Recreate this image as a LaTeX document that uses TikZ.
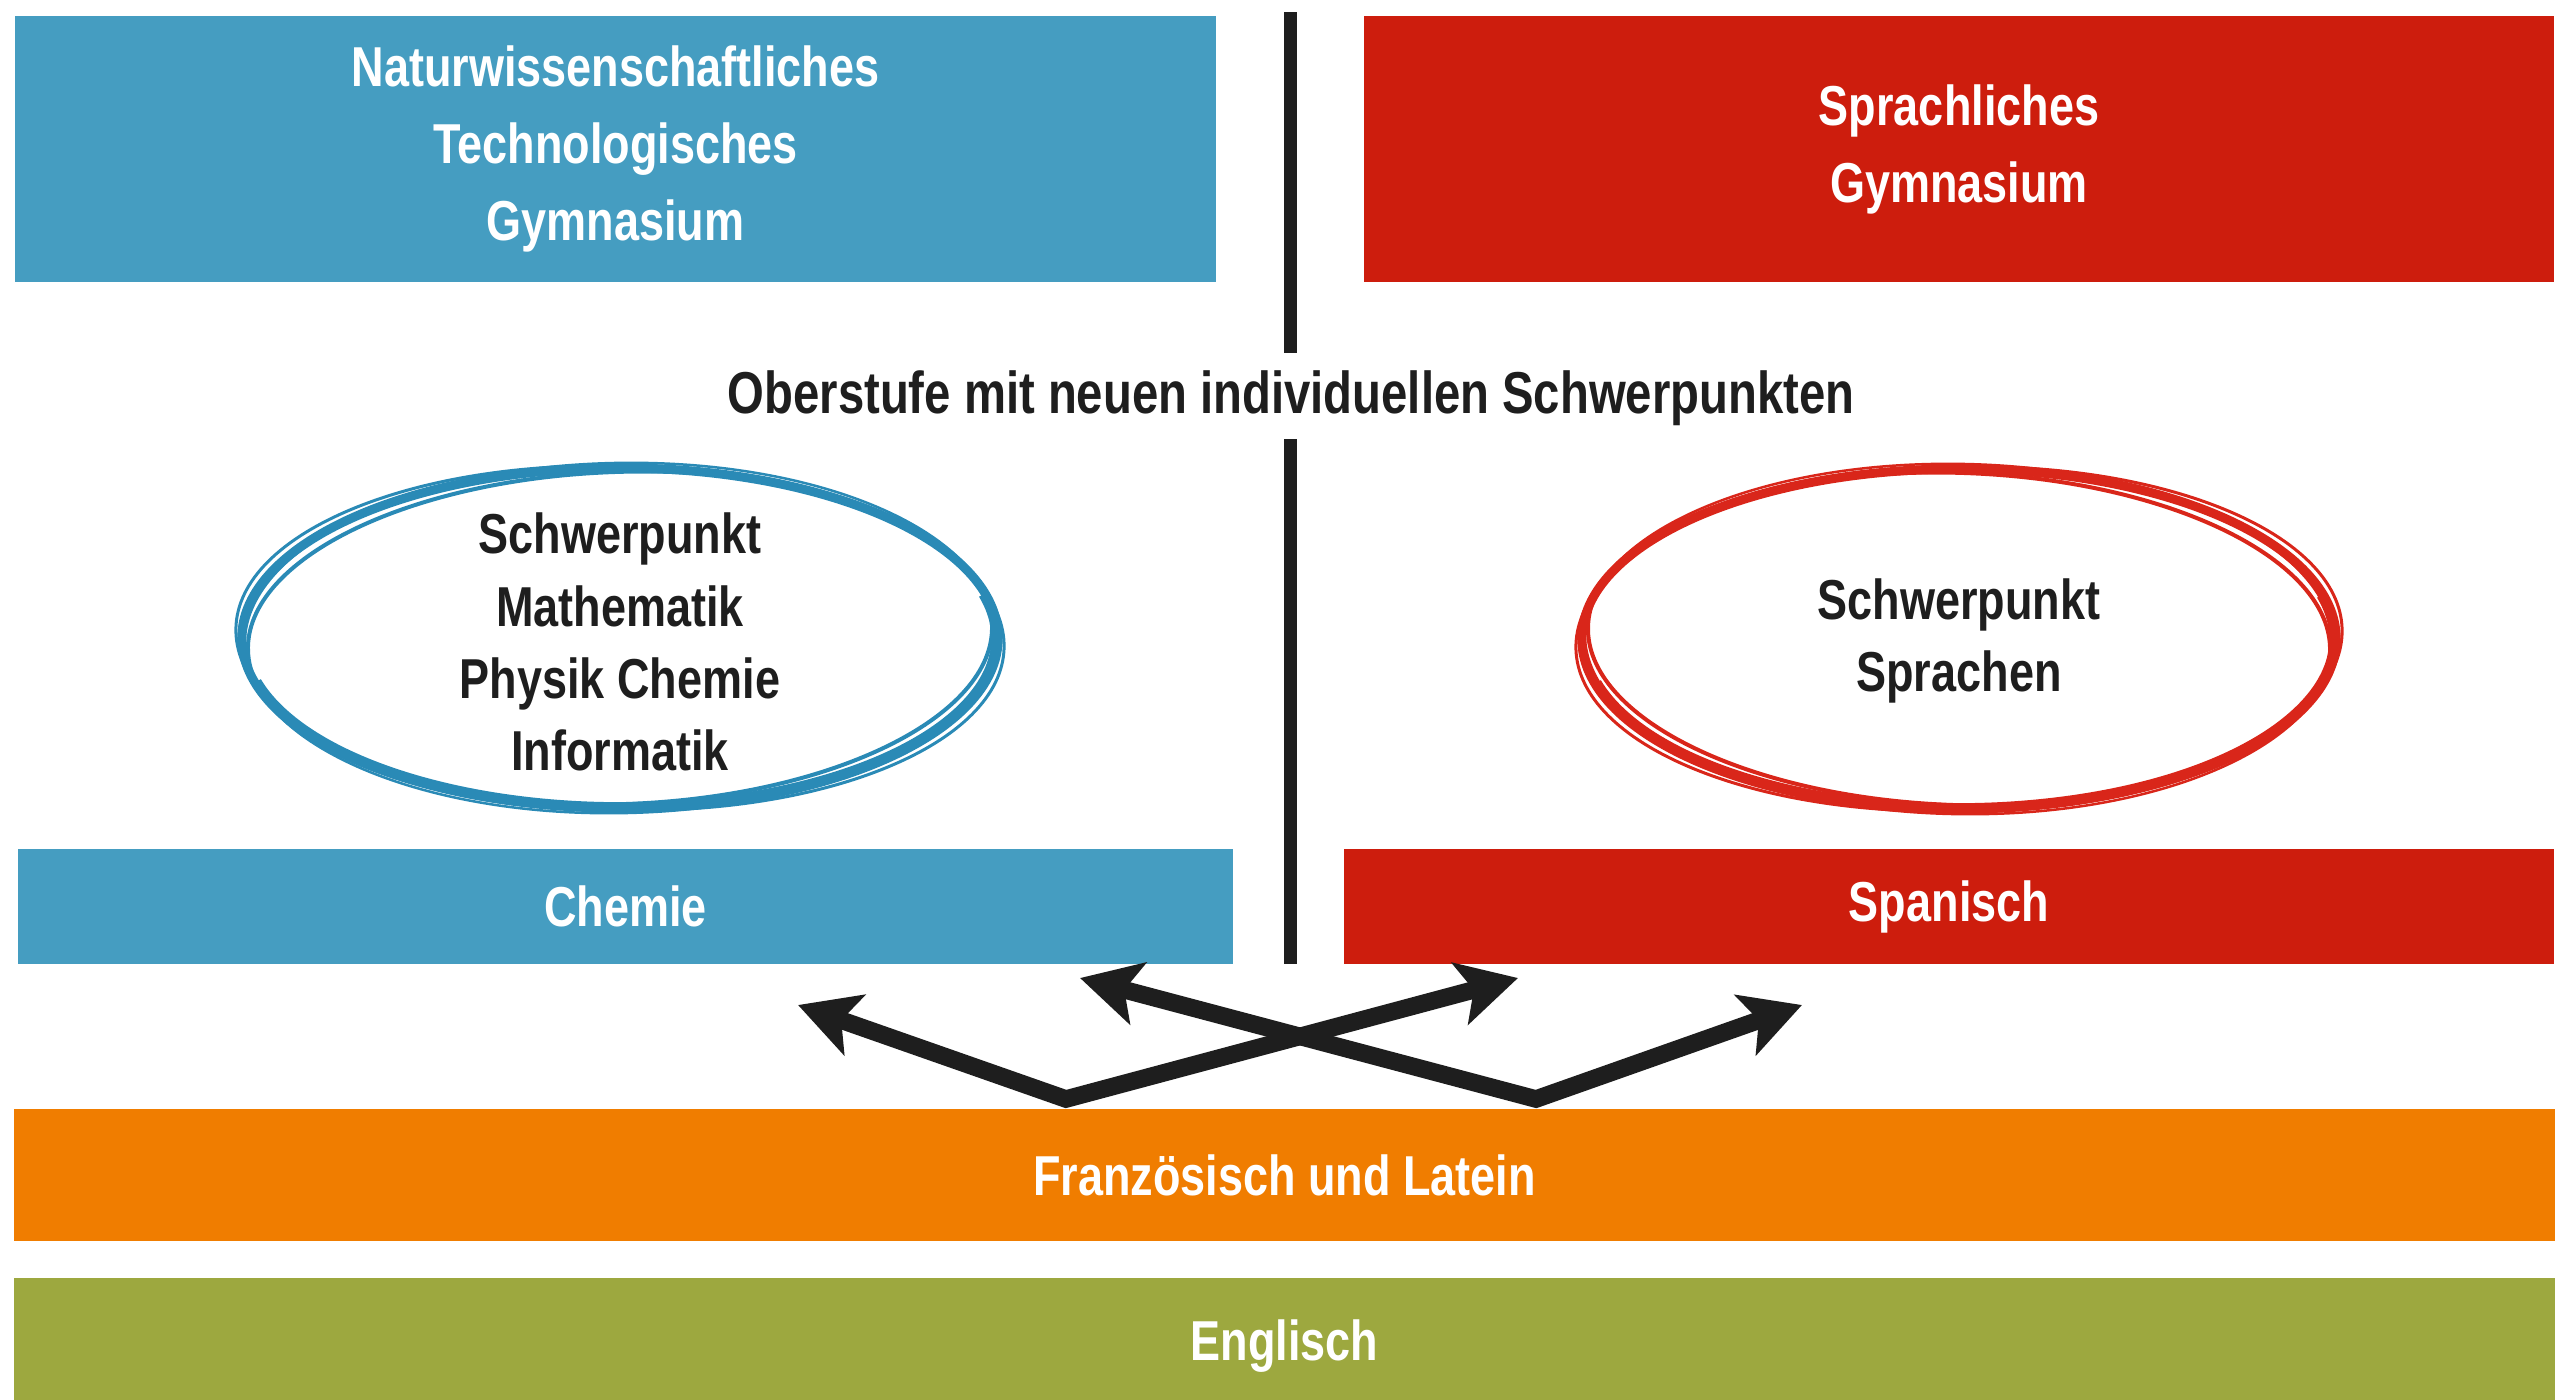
\documentclass[tikz,border=0pt]{standalone}
\usepackage{fontspec}
\setmainfont{Liberation Sans}[FakeStretch=0.8]
\usetikzlibrary{arrows.meta}

\definecolor{ntgblue}{HTML}{459DC1}
\definecolor{sprred}{HTML}{CD1D0D}
\definecolor{frorange}{HTML}{F07D00}
\definecolor{engreen}{HTML}{9DA83F}
\definecolor{inkblack}{HTML}{1E1E1E}
\definecolor{brushblue}{HTML}{2A8AB6}
\definecolor{brushred}{HTML}{D9261A}

\tikzset{
  band/.style={rectangle, inner sep=0pt, text=white, align=center,
    font=\bfseries\fontsize{16}{21.9}\selectfont},
  focus/.style={inner sep=0pt, text=inkblack, align=center,
    font=\bfseries\fontsize{16}{20.5}\selectfont},
  crossarrow/.style={draw=inkblack, line width=5pt, line join=miter,
    >={Stealth[length=17pt,width=18pt,inset=4pt]}, <->},
  divider/.style={draw=inkblack, line width=0.13cm},
}

\begin{document}
\begin{tikzpicture}[x=0.01cm, y=-0.01cm]

    \useasboundingbox (0,0) rectangle (2570,1399);

    % Gymnasien
    \node[band, fill=ntgblue, minimum width=12.01cm, minimum height=2.66cm] (ntg) at (615.5,149)
        {Naturwissenschaftliches\\Technologisches\\Gymnasium};
    \node[band, fill=sprred, minimum width=11.90cm, minimum height=2.66cm] (spr) at (1959,149)
        {Sprachliches\\Gymnasium};

    \node[focus, font=\bfseries\fontsize{16.8}{20.5}\selectfont] (ober) at (1291,398)
        {Oberstufe mit neuen individuellen Schwerpunkten};

    \coordinate (divtop) at (1290,12);
    \coordinate (divup) at (1290,353);
    \coordinate (divlow) at (1290,439);
    \coordinate (divbot) at (1290,964);
    \draw[divider] (divtop) -- (divup);
    \draw[divider] (divlow) -- (divbot);

    % Schwerpunkte
    \node[focus] (schwm) at (620,642) {Schwerpunkt\\Mathematik\\Physik Chemie\\Informatik};
    \node[focus] (schwsp) at (1959,641) {Schwerpunkt\\Sprachen};

    \foreach \rx/\ry/\rot/\w in {3.78/1.70/0/0.09, 3.72/1.66/2/0.04, 3.84/1.72/-1.5/0.03, 3.75/1.75/1/0.025}
        \draw[brushblue, line width=\w cm, rotate around={\rot:(620,638)}] (620,638) ellipse [x radius=\rx cm, y radius=\ry cm];
    \draw[brushblue, line width=0.1cm] ([shift={(195:3.76cm and 1.69cm)}]620,638)
        arc[start angle=195, end angle=375, x radius=3.76cm, y radius=1.69cm];

    \foreach \rx/\ry/\rot/\w in {3.77/1.70/0/0.09, 3.71/1.66/-2/0.04, 3.83/1.72/1.5/0.03, 3.74/1.75/-1/0.025}
        \draw[brushred, line width=\w cm, rotate around={\rot:(1959,639)}] (1959,639) ellipse [x radius=\rx cm, y radius=\ry cm];
    \draw[brushred, line width=0.1cm] ([shift={(195:3.75cm and 1.69cm)}]1959,639)
        arc[start angle=195, end angle=375, x radius=3.75cm, y radius=1.69cm];

    \node[band, fill=ntgblue, minimum width=12.15cm, minimum height=1.15cm] (chem) at (625.5,906.5) {Chemie};
    \node[band, fill=sprred, minimum width=12.10cm, minimum height=1.15cm] (span) at (1949,906.5) {Spanisch};

    % Pfeile
    \coordinate (lv) at (1066,1099);
    \coordinate (rv) at (1536,1099);
    \coordinate (lltip) at (798,1005);
    \coordinate (lrtip) at (1518,978);
    \coordinate (rltip) at (1080,978);
    \coordinate (rrtip) at (1802,1005);
    \draw[crossarrow] (lltip) -- (lv) -- (lrtip);
    \draw[crossarrow] (rltip) -- (rv) -- (rrtip);

    % Sprachen
    \node[band, fill=frorange, minimum width=25.39cm, minimum height=1.32cm] (fl) at (1284.5,1175) {Französisch und Latein};
    \node[band, fill=engreen, minimum width=25.39cm, minimum height=1.36cm] (eng) at (1284.5,1346) {Englisch};

\end{tikzpicture}
\end{document}
